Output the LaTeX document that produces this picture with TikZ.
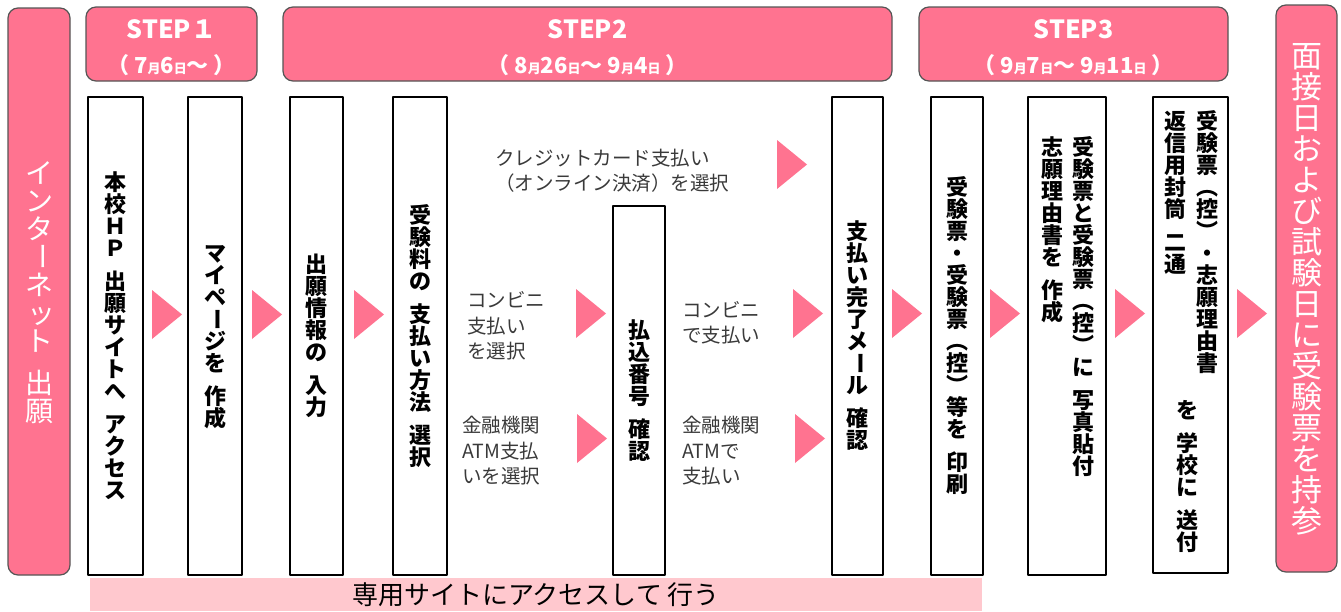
\documentclass[tikz,border=0pt]{standalone}
\usepackage{fontspec}
\setmainfont{Noto Sans CJK JP}
\definecolor{pinkc}{HTML}{FF7390}
\definecolor{barpink}{HTML}{FFC8CE}
\definecolor{edgegray}{HTML}{555555}
\definecolor{notegray}{HTML}{3A3A3A}
\newcommand\sjp[1]{{\fontsize{13pt}{13pt}\selectfont #1}}

% vertical (tategaki) text: one character under the other
\ExplSyntaxOn
\cs_new:Npn \vtxt_char:n #1
  { \hbox:n { \rule[-0.12em]{0pt}{1em} \makebox[1em]{\smash{#1}} } }
\NewDocumentCommand \vtxt { m }
  {
    \vtop
      {
        \offinterlineskip
        \tl_map_inline:nn {#1}
          {
            \str_case:nnF {##1}
              {
                {　} { \skip_vertical:n { 0.5em } }
                {ー} { \vtxt_char:n { \raisebox{0.15em}{\rotatebox[origin=c]{-90}{ー}} } }
                {（} { \vtxt_char:n {︵} }
                {）} { \vtxt_char:n {︶} }
                {ッ} { \vtxt_char:n { \kern0.2em ッ } }
              }
              { \vtxt_char:n {##1} }
          }
      }
  }
\ExplSyntaxOff

\begin{document}
\begin{tikzpicture}[x=1pt,y=-1pt,line join=round,
    stepbox/.style={draw=black,line width=2.5pt,fill=white,inner sep=0pt,
      font=\bfseries\fontsize{22pt}{22pt}\selectfont},
    vtext/.style={inner sep=0pt,font=\bfseries\fontsize{22pt}{22pt}\selectfont},
    sidebox/.style={draw=edgegray,line width=1.2pt,fill=pinkc,rounded corners=10pt,
      inner sep=0pt,text=white},
    headbox/.style={draw=edgegray,line width=1.2pt,fill=pinkc,rounded corners=10pt,inner sep=0pt},
    steptitle/.style={text=white,font=\bfseries\fontsize{25pt}{25pt}\selectfont},
    stepdate/.style={text=white,font=\bfseries\fontsize{22pt}{22pt}\selectfont},
    note/.style={align=left,inner sep=0pt,anchor=west,text=notegray,
      font=\fontsize{19.5pt}{25.5pt}\selectfont}]
    \useasboundingbox (0,0) rectangle (1341,611);
    % side columns
    \node[sidebox,minimum width=62,minimum height=567,font=\fontsize{28pt}{28pt}\selectfont]
      (net) at (39,291.5) {\vtxt{インターネット　出願}};
    \node[sidebox,minimum width=61,minimum height=567,font=\fontsize{31pt}{31pt}\selectfont]
      (goal) at (1306.5,288.5) {\vtxt{面接日および試験日に受験票を持参}};
    % step headers
    \node[headbox,minimum width=171,minimum height=74] (h1) at (171.5,44) {};
    \node[headbox,minimum width=609,minimum height=74] (h2) at (587.5,44) {};
    \node[headbox,minimum width=309,minimum height=74] (h3) at (1073.5,44) {};
    \node[steptitle] (s1) at (171.5,29) {STEP１};
    \node[steptitle] (s2) at (587.5,29) {STEP2};
    \node[steptitle] (s3) at (1073.5,29) {STEP3};
    \node[stepdate] (d1) at (171.5,65) {（ 7\sjp{月}6\sjp{日}～ ）};
    \node[stepdate] (d2) at (587.5,65) {（ 8\sjp{月}26\sjp{日}～ 9\sjp{月}4\sjp{日} ）};
    \node[stepdate] (d3) at (1073.5,65) {（ 9\sjp{月}7\sjp{日}～ 9\sjp{月}11\sjp{日} ）};
    % boxes
    \node[stepbox,minimum width=55,minimum height=478] (b1) at (115.5,336) {\vtxt{本校ＨＰ　出願サイトへ　アクセス}};
    \node[stepbox,minimum width=54,minimum height=478] (b2) at (215,336) {\vtxt{マイページを　作成}};
    \node[stepbox,minimum width=53,minimum height=478] (b3) at (316.5,336) {\vtxt{出願情報の　入力}};
    \node[stepbox,minimum width=54,minimum height=478] (b4) at (420,336) {\vtxt{受験料の　支払い方法　選択}};
    \node[stepbox,minimum width=52,minimum height=369] (b5) at (639,390.5) {\vtxt{払込番号　確認}};
    \node[stepbox,minimum width=51,minimum height=478] (b6) at (857.5,336) {\vtxt{支払い完了メール　確認}};
    \node[stepbox,minimum width=52,minimum height=478] (b7) at (957,336) {\vtxt{受験票・受験票（控）等を　印刷}};
    \node[stepbox,minimum width=78,minimum height=478] (b8) at (1067,336) {};
    \node[stepbox,minimum width=75,minimum height=476] (b9) at (1190.5,335) {};
    \node[vtext,anchor=north] (t8) at (1067.5,136)
      {\vtxt{志願理由書を　作成}\hspace{9pt}\vtxt{受験票と受験票（控）に　写真貼付}};
    \node[vtext,anchor=north] (t9) at (1191,110)
      {\vtxt{返信用封筒　二通}\hspace{10pt}\vtxt{受験票（控）・志願理由書}};
    \node[vtext] (t9b) at (1187,476.5) {\vtxt{を　学校に　送付}};
    % payment notes
    \node[note] (n1) at (495,170.5) {クレジットカード支払い\\（オンライン決済）を選択};
    \node[note] (n2) at (467,326) {コンビニ\\支払い\\を選択};
    \node[note] (n3) at (462,451) {金融機関\\ATM支払\\いを選択};
    \node[note] (n4) at (682,323) {コンビニ\\で支払い};
    \node[note] (n5) at (682,451) {金融機関\\ATMで\\支払い};
    % arrows
    \foreach \x/\y in {152/290,252/290,354/290,777/140,576/289,577/414,793/289,795/414,892/289,990/289,1115/289,1237/289}
    \fill[pinkc,shift={(\x,\y)}] (0,0) -- (30,24.5) -- (0,49) -- cycle;
    % bottom bar
    \node[fill=barpink,minimum width=892,minimum height=33,inner sep=0pt,
      font=\fontsize{26pt}{26pt}\selectfont] (bar) at (536,594.5) {専用サイトにアクセスして 行う};
  \end{tikzpicture}
\end{document}
